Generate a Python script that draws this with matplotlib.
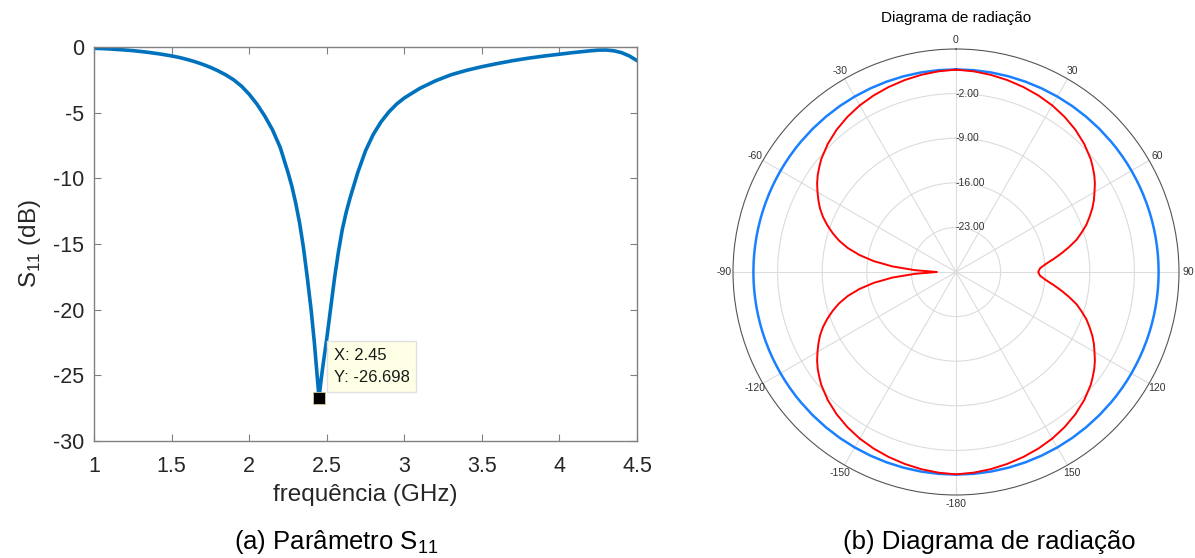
import numpy as np
import matplotlib.pyplot as plt

plt.rcParams['font.family'] = ['Liberation Sans', 'DejaVu Sans']
plt.rcParams['axes.unicode_minus'] = False

# S11 measurement (GHz, dB)
freq = [1.0, 1.05, 1.1, 1.15, 1.2, 1.25, 1.3, 1.35, 1.4, 1.45, 1.5, 1.55, 1.6,
        1.65, 1.7, 1.75, 1.8, 1.85, 1.9, 1.95, 2.0, 2.05, 2.1, 2.15, 2.2, 2.25,
        2.275, 2.3, 2.325, 2.35, 2.375, 2.4, 2.42, 2.435, 2.445, 2.45, 2.455,
        2.465, 2.475, 2.5, 2.525, 2.55, 2.575, 2.6, 2.625, 2.65, 2.7, 2.75, 2.8,
        2.85, 2.9, 2.95, 3.0, 3.1, 3.2, 3.3, 3.4, 3.5, 3.6, 3.7, 3.8, 3.9, 4.0,
        4.1, 4.2, 4.25, 4.3, 4.35, 4.4, 4.45, 4.5]
s11 = [-0.10, -0.12, -0.15, -0.19, -0.23, -0.28, -0.34, -0.41, -0.49, -0.58,
       -0.68, -0.80, -0.95, -1.12, -1.32, -1.55, -1.82, -2.13, -2.50, -2.98,
       -3.60, -4.35, -5.25, -6.30, -7.65, -9.55, -10.6, -11.9, -13.4, -15.3,
       -17.6, -20.1, -22.5, -24.6, -26.0, -26.698, -26.2, -25.2, -24.3, -22.2,
       -19.9, -17.6, -15.6, -13.9, -12.6, -11.5, -9.55, -7.9, -6.65, -5.7,
       -4.95, -4.35, -3.88, -3.15, -2.58, -2.12, -1.78, -1.5, -1.26, -1.04,
       -0.85, -0.69, -0.55, -0.41, -0.29, -0.24, -0.23, -0.29, -0.43, -0.68,
       -1.04]
tip_x, tip_y = 2.45, -26.698

# radiation pattern (deg, dB): right half 0..180, left half 180..360
ang_r = [0, 5, 10, 15, 20, 25, 30, 35, 40, 45, 50, 52.5, 55, 57.5, 60, 62.5,
         65, 67.5, 70, 72.5, 75, 77.5, 80, 82.5, 85, 87.5, 90, 92.5, 95, 97.5,
         100, 102.5, 105, 107.5, 110, 112.5, 115, 117.5, 120, 122.5, 125, 127.5,
         130, 135, 140, 145, 150, 155, 160, 165, 170, 175, 180]
gain_r = [1.76, 1.62, 1.42, 1.18, 0.9, 0.58, 0.2, -0.28, -0.85, -1.55, -2.4,
          -2.95, -3.5, -4.15, -4.9, -5.6, -6.4, -7.3, -8.2, -9.3, -10.4, -11.8,
          -13.2, -14.6, -15.9, -16.8, -17.1, -16.8, -15.9, -14.6, -13.2, -11.8,
          -10.4, -9.3, -8.2, -7.3, -6.4, -5.6, -4.9, -4.15, -3.5, -2.95, -2.4,
          -1.55, -0.85, -0.28, 0.2, 0.58, 0.9, 1.18, 1.42, 1.62, 1.76]
ang_l = [a + 180 for a in ang_r]
gain_l = [1.76, 1.62, 1.42, 1.18, 0.9, 0.58, 0.2, -0.28, -0.85, -1.55, -2.4,
          -2.95, -3.5, -4.15, -4.9, -5.65, -6.45, -7.4, -8.5, -9.7, -11.0, -12.6,
          -14.6, -17.0, -20.0, -23.6, -27.0, -23.6, -20.0, -17.0, -14.6, -12.6,
          -11.0, -9.7, -8.5, -7.4, -6.45, -5.65, -4.9, -4.15, -3.5, -2.95, -2.4,
          -1.55, -0.85, -0.28, 0.2, 0.58, 0.9, 1.18, 1.42, 1.62, 1.76]
ref_level = 1.8
rings = [-23, -16, -9, -2]
theta_ticks = list(range(0, 360, 30))
theta_labels = ['0', '30', '60', '90', '120', '150', '-180', '-150', '-120',
                '-90', '-60', '-30']

fig = plt.figure(figsize=(11.95, 5.58), dpi=100)

# (a) S11
ax = fig.add_axes([0.0787, 0.2097, 0.4544, 0.7061])
ax.plot(freq, s11, color='#0072BD', lw=2.6, solid_joinstyle='round')
ax.plot(tip_x, tip_y, 's', color='black', ms=8, mec='#d8c890', mew=0.6)
ax.text(2.545, -25.77, f'X: {tip_x:g}\nY: {tip_y:g}', fontsize=12,
        color='#1a1a1a', linespacing=1.65, va='bottom', ha='left',
        bbox=dict(boxstyle='square,pad=0.4', fc='#ffffe6', ec='#e0e0e0', lw=1))
ax.set_xlim(1, 4.5)
ax.set_ylim(-30, 0)
ax.set_xticks(np.arange(1, 4.51, 0.5))
ax.set_xticklabels(['1', '1.5', '2', '2.5', '3', '3.5', '4', '4.5'])
ax.set_yticks(range(-30, 1, 5))
ax.tick_params(direction='in', length=5, width=0.8, labelsize=15.5,
               colors='#808080', labelcolor='#262626', top=True, right=True)
ax.tick_params(axis='x', pad=11)
ax.tick_params(axis='y', pad=7)
for s in ax.spines.values():
    s.set_color('#808080')
    s.set_linewidth(1.0)
ax.set_xlabel('frequência (GHz)', fontsize=17.5, color='#262626', labelpad=5)
ax.set_ylabel(r'S$_{\mathregular{11}}$ (dB)', fontsize=17.5, color='#262626',
              labelpad=7)
fig.text(0.281, 0.016, r'(a) Parâmetro S$_{\mathregular{11}}$', fontsize=18.5,
         ha='center', va='baseline')

# (b) radiation pattern
pax = fig.add_axes([0.6134, 0.1129, 0.3732, 0.7993], projection='polar')
pax.set_theta_zero_location('N')
pax.set_theta_direction(-1)
pax.plot(np.deg2rad(ang_r + ang_l), np.full(len(ang_r) * 2, ref_level),
         color='#1a80ff', lw=1.8)
pax.plot(np.deg2rad(ang_r + ang_l), gain_r + gain_l, color='#ff0000', lw=1.4)
pax.set_ylim(-30, 5)
pax.set_yticks(rings)
pax.set_yticklabels([])
for r in rings:
    pax.text(0, r, f'{r:.2f}', fontsize=7.5, color='#333333',
             ha='left', va='center')
pax.set_xticks(np.deg2rad(theta_ticks))
pax.set_xticklabels([])
for t, lab in zip(theta_ticks, theta_labels):
    pax.text(np.deg2rad(t), 6.45, lab, fontsize=7.5, color='#333333',
             ha='center', va='center', clip_on=False)
pax.set_xticks(np.deg2rad(np.arange(0, 360, 5)), minor=True)
pax.tick_params(axis='x', which='both', direction='in', color='#555555')
pax.tick_params(axis='x', which='minor', length=4, width=0.6)
pax.tick_params(axis='x', which='major', length=0)
pax.grid(True, color='#dcdcdc', lw=0.8)
pax.spines['polar'].set_color('#555555')
pax.spines['polar'].set_linewidth(0.8)
fig.text(0.8, 1 - 18 / 558, 'Diagrama de radiação', fontsize=11,
         ha='center', va='center')
fig.text(0.828, 0.016, '(b) Diagrama de radiação', fontsize=18.5,
         ha='center', va='baseline')

fig.savefig('out.png', dpi=100)
